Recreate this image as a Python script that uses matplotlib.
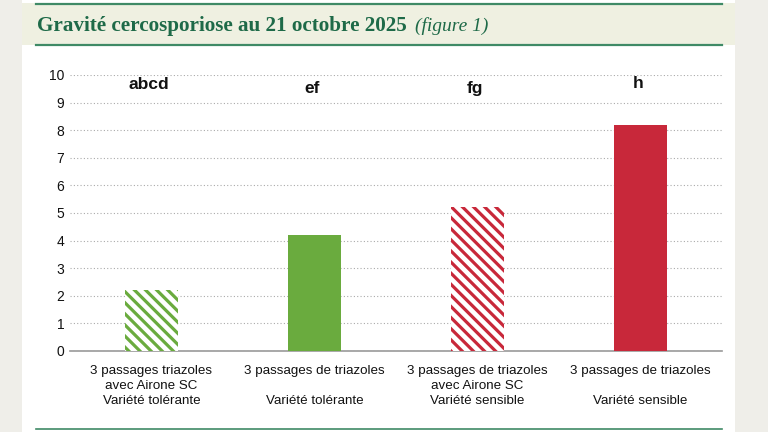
import matplotlib
matplotlib.use("Agg")
import matplotlib.pyplot as plt
from matplotlib.patches import Rectangle

categories = [
    "3 passages triazoles\navec Airone SC\nVariété tolérante",
    "3 passages de triazoles\n\nVariété tolérante",
    "3 passages de triazoles\navec Airone SC\nVariété sensible",
    "3 passages de triazoles\n\nVariété sensible",
]
values = [2.2, 4.2, 5.2, 8.2]
letters = ["abcd", "ef", "fg", "h"]
letter_y = [9.65, 9.5, 9.5, 9.7]
hatched = [True, False, True, False]

GREEN = "#6aab3e"
RED = "#c8283a"
TITLE_GREEN = "#1e6a48"

plt.rcParams["font.family"] = ["Liberation Sans", "DejaVu Sans"]
plt.rcParams["hatch.linewidth"] = 2.3

fig = plt.figure(figsize=(7.68, 4.32), dpi=100)
fig.patch.set_facecolor("#efeee9")

# card + header band
fig.add_artist(Rectangle((22 / 768, 0), 713 / 768, 1, transform=fig.transFigure,
                         facecolor="white", edgecolor="none", zorder=-10))
fig.add_artist(Rectangle((22 / 768, 1 - 45 / 432), 713 / 768, 42 / 432,
                         transform=fig.transFigure, facecolor="#eff0e1",
                         edgecolor="none", zorder=-9))
for y, lw in [(1 - 4 / 432, 1.6), (1 - 45 / 432, 1.6), (1 - 429 / 432, 1.2)]:
    fig.add_artist(plt.Line2D([36 / 768, 722 / 768], [y, y], transform=fig.transFigure,
                              color="#3f8a66", lw=lw, zorder=-8))

fig.text(37 / 768, 1 - 26 / 432, "Gravité cercosporiose au 21 octobre 2025",
         family="Liberation Serif", weight="bold", fontsize=15.2, color=TITLE_GREEN,
         va="center", ha="left")
fig.text(415 / 768, 1 - 26 / 432, "(figure 1)", family="Liberation Serif",
         style="italic", fontsize=14, color=TITLE_GREEN, va="center", ha="left")

ax = fig.add_axes([70 / 768, 1 - 351 / 432, 652 / 768, 276 / 432])
ax.set_zorder(1)
ax.set_facecolor("none")
x = list(range(len(values)))
for i, (v, h) in enumerate(zip(values, hatched)):
    color = GREEN if i < 2 else RED
    if h:
        ax.bar(i, v, width=0.32, facecolor="white", edgecolor=color, hatch="\\\\\\",
               linewidth=0, zorder=3)
    else:
        ax.bar(i, v, width=0.32, color=color, linewidth=0, zorder=3)
    ax.text(i - 0.015, letter_y[i], letters[i], ha="center", va="center", fontsize=12.5,
            weight="bold", color="#111111")

ax.set_xlim(-0.5, 3.5)
ax.set_ylim(0, 10)
ax.set_yticks(range(0, 11))
ax.yaxis.grid(True, linestyle=(0, (1, 2)), color="#aaaaaa", linewidth=0.8)
ax.set_axisbelow(True)
for side in ["top", "right", "left"]:
    ax.spines[side].set_visible(False)
ax.spines["bottom"].set_color("#999999")
ax.spines["bottom"].set_linewidth(1.2)
ax.tick_params(axis="y", length=0, labelsize=10, pad=4, labelcolor="#111111")
ax.tick_params(axis="x", length=0, labelsize=9.6, pad=10, labelcolor="#111111")
ax.set_xticks(x)
ax.set_xticklabels(categories, linespacing=1.35)

fig.savefig("out.png", dpi=100, facecolor=fig.get_facecolor())
